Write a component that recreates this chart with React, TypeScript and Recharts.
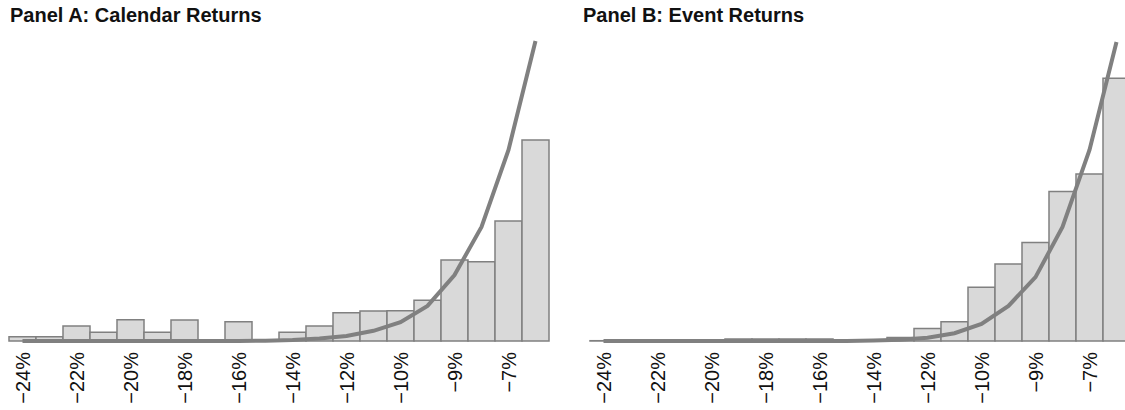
import React from "react";
import { ComposedChart, Bar, Line, XAxis, YAxis } from "recharts";

// bin labels (only every other one is shown on the axis)
const bins = [
  "−24%", "−23%", "−22%", "−21%", "−20%", "−19%", "−18%", "−17%", "−16%", "−15%",
  "−14%", "−13%", "−12%", "−11%", "−10%", "−9.5%", "−9%", "−8%", "−7%", "−6%",
];

const calendarBars = [1.4, 1.4, 5.0, 2.9, 7.1, 2.9, 7.0, 0, 6.4, 0, 2.9, 5.0, 9.4, 10.0, 10.1, 13.6, 27.0, 26.4, 40.0, 67.0];
const calendarFit = [0, 0, 0, 0, 0, 0, 0, 0, 0, 0.1, 0.3, 0.8, 1.7, 3.4, 6.3, 11.7, 22.0, 38.0, 63.7, 100];

const eventBars = [0.1, 0.1, 0.1, 0.1, 0.1, 0.7, 0.7, 0.7, 0.7, 0.3, 0.3, 1.2, 4.2, 6.4, 17.9, 25.7, 32.8, 49.8, 55.7, 87.6];
const eventFit = [0, 0, 0, 0, 0, 0, 0, 0, 0, 0, 0.2, 0.4, 1.1, 2.6, 5.7, 11.7, 21.3, 38.0, 63.7, 99.7];

const BAR_FILL = "#d9d9d9";
const GREY = "#808080";

const RotatedTick = ({ x, y, payload }: any) => (
  <text
    x={x}
    y={y}
    transform={`rotate(-90, ${x}, ${y})`}
    textAnchor="end"
    dominantBaseline="central"
    fontSize={20}
    fontFamily="'Liberation Sans', Arial, sans-serif"
    fill="#111"
  >
    {payload.value}
  </text>
);

function Panel({ title, titleLeft, bars, fit, left }: { title: string; titleLeft: number; bars: number[]; fit: number[]; left: number }) {
  const data = bins.map((bin, i) => ({ bin, freq: bars[i], fit: fit[i] }));
  return (
    <div style={{ position: "absolute", left, top: 0, width: 560, height: 410 }}>
      <div
        style={{
          position: "absolute",
          left: titleLeft,
          top: 5,
          fontFamily: "'Liberation Sans', Arial, sans-serif",
          fontWeight: 700,
          fontSize: 20,
          lineHeight: "20px",
          color: "#111",
          whiteSpace: "nowrap",
        }}
      >
        {title}
      </div>
      <ComposedChart
        width={560}
        height={410}
        data={data}
        margin={{ top: 41, right: 11, bottom: 0, left: 9 }}
        barCategoryGap={0}
        barGap={0}
      >
        <XAxis
          dataKey="bin"
          height={69}
          axisLine={false}
          tickLine={false}
          tickSize={0}
          tickMargin={11}
          interval={1}
          tick={<RotatedTick />}
        />
        <YAxis hide domain={[0, 100]} />
        <Bar dataKey="freq" fill={BAR_FILL} stroke={GREY} strokeWidth={1.5} isAnimationActive={false} />
        <Line
          dataKey="fit"
          type="linear"
          stroke={GREY}
          strokeWidth={4}
          dot={false}
          activeDot={false}
          isAnimationActive={false}
        />
      </ComposedChart>
    </div>
  );
}

export default function App() {
  return (
    <div
      style={{
        position: "absolute",
        left: 0,
        top: 0,
        width: 1125,
        height: 410,
        overflow: "hidden",
        background: "#fff",
      }}
    >
      <Panel title="Panel A: Calendar Returns" titleLeft={10} bars={calendarBars} fit={calendarFit} left={0} />
      <Panel title="Panel B: Event Returns" titleLeft={2} bars={eventBars} fit={eventFit} left={581} />
    </div>
  );
}
